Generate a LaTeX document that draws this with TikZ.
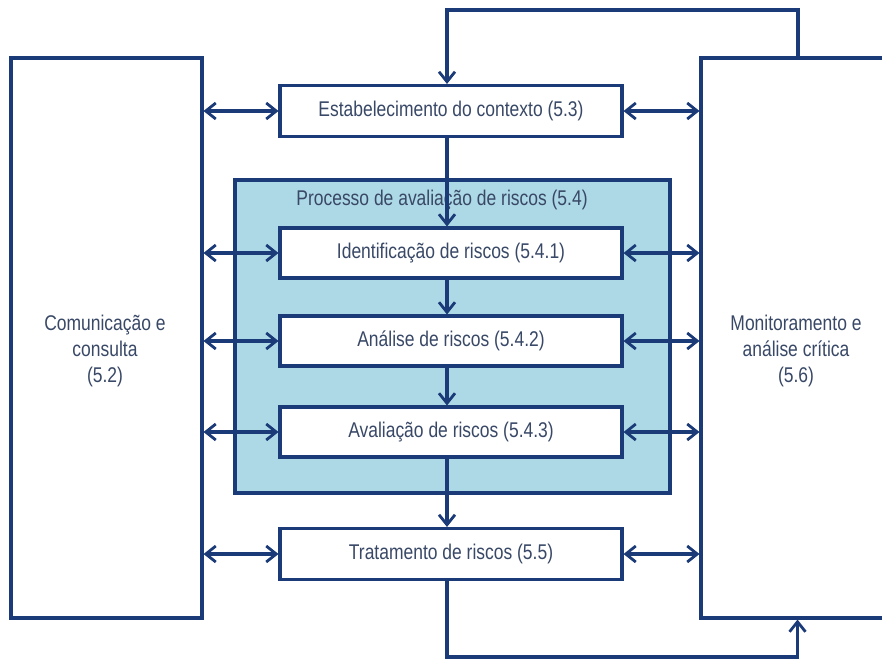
\documentclass[tikz,border=0pt]{standalone}
\usepackage{fontspec}
\setmainfont{Liberation Sans}[FakeStretch=0.82]
\usetikzlibrary{arrows.meta}
\definecolor{navy}{HTML}{1B3A78}
\definecolor{procfill}{HTML}{ADD8E5}
\definecolor{txt}{HTML}{384866}
\begin{document}
\begin{tikzpicture}[x=1pt,y=-1pt,
  ln/.style={draw=navy,line width=3.1pt},
  tip/.style={-{Straight Barb[length=10pt,width=16pt,line width=2.8pt]}},
  dbl/.style={ln,{Straight Barb[length=10pt,width=16pt,line width=2.8pt]}-{Straight Barb[length=10pt,width=16pt,line width=2.8pt]}},
  lbl/.style={font=\fontsize{21.3}{26}\selectfont,text=txt,inner sep=0pt,align=center},
  stepbox/.style={ln,fill=white,minimum width=342pt,minimum height=50pt,inner sep=0pt,lbl},
  sidebox/.style={ln,fill=white,minimum width=191pt,minimum height=560pt,inner sep=0pt}]
\clip (0,0) rectangle (882,661);
\fill[white] (0,0) rectangle (882,661);
% process block
\node[ln,fill=procfill,minimum width=435pt,minimum height=313pt,inner sep=0pt] (proc) at (452.5,336.5) {};
\node[lbl] (proclbl) at (442,200) {Processo de avaliação de riscos (5.4)};
% side boxes
\node[sidebox] (comm) at (106.5,338) {};
\node[lbl] (commlbl) at (105,351) {Comunicação e\\consulta\\(5.2)};
\node[sidebox] (mon) at (796.5,338) {};
\node[lbl] (monlbl) at (796,351) {Monitoramento e\\análise crítica\\(5.6)};
% steps
\node[stepbox,minimum height=51pt] (ctx) at (451,111) {Estabelecimento do contexto (5.3)};
\node[stepbox] (idf) at (451,253) {Identificação de riscos (5.4.1)};
\node[stepbox] (ana) at (451,341) {Análise de riscos (5.4.2)};
\node[stepbox] (ava) at (451,432) {Avaliação de riscos (5.4.3)};
\node[stepbox,minimum height=51pt] (trt) at (451,554) {Tratamento de riscos (5.5)};
% vertical flow
\draw[ln,tip] ([xshift=-4pt]ctx.south) -- ([xshift=-4pt]idf.north);
\draw[ln,tip] ([xshift=-4pt]idf.south) -- ([xshift=-4pt]ana.north);
\draw[ln,tip] ([xshift=-4pt]ana.south) -- ([xshift=-4pt]ava.north);
\draw[ln,tip] ([xshift=-4pt]ava.south) -- ([xshift=-4pt]trt.north);
% feedback loops
\coordinate (topy) at (0,10);
\coordinate (boty) at (0,657);
\draw[ln,tip] ([xshift=1.5pt]mon.north) -- ([xshift=1.5pt]mon.north |- topy) -- ([xshift=-4pt]ctx.north |- topy) -- ([xshift=-4pt]ctx.north);
\draw[ln,tip] ([xshift=-4pt]trt.south) -- ([xshift=-4pt]trt.south |- boty) -- ([xshift=1pt]mon.south |- boty) -- ([xshift=1pt]mon.south);
% two-way links
\foreach \n in {ctx,idf,ana,ava,trt}{
  \draw[dbl] (comm.east |- \n) -- (\n.west);
  \draw[dbl] (\n.east) -- (mon.west |- \n);
}
\end{tikzpicture}
\end{document}
